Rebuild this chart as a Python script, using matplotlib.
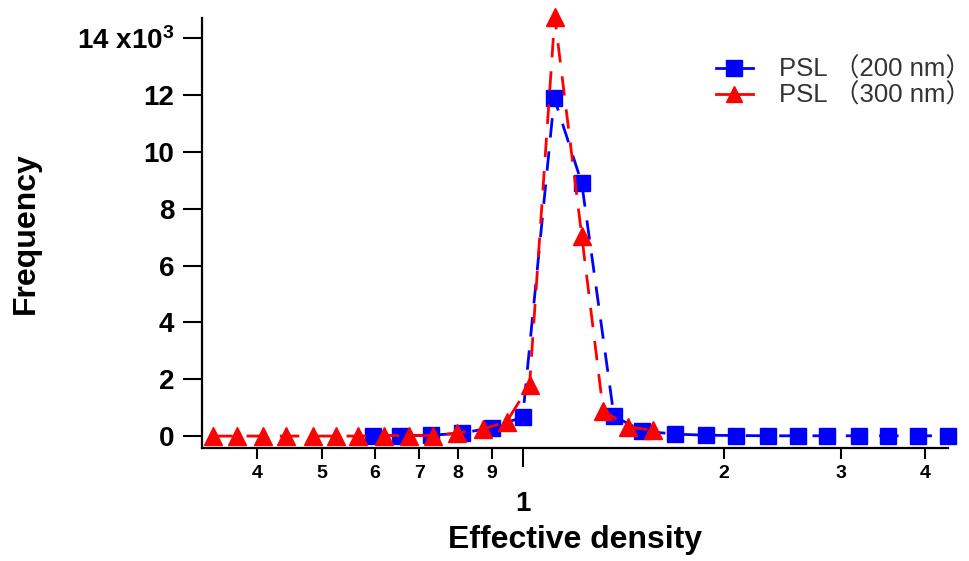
import matplotlib
import numpy as np

matplotlib.use("Agg")

import matplotlib.pyplot as plt
from matplotlib.legend_handler import HandlerLine2D

plt.rcParams["font.family"] = ["Liberation Sans", "DejaVu Sans"]
plt.rcParams["mathtext.default"] = "regular"

# effective density (log axis) and counts
x_200 = [0.596, 0.654, 0.728, 0.810, 0.900, 1.0, 1.115, 1.226, 1.37, 1.51,
         1.69, 1.88, 2.09, 2.33, 2.58, 2.86, 3.19, 3.53, 3.91, 4.33]
y_200 = [20, 20, 30, 100, 300, 670, 11900, 8900, 700, 180,
         70, 30, 20, 10, 10, 10, 10, 10, 10, 10]

x_300 = [0.344, 0.373, 0.409, 0.442, 0.486, 0.525, 0.566, 0.620, 0.675, 0.733,
         0.796, 0.871, 0.946, 1.024, 1.117, 1.226, 1.32, 1.44, 1.57]
y_300 = [0, 0, 0, 0, 0, 0, 0, 20, 20, 20,
         100, 250, 500, 1800, 14750, 7050, 900, 320, 200]

labels = ["PSL （200 nm）", "PSL （300 nm）"]

y_ticks = [0, 2000, 4000, 6000, 8000, 10000, 12000, 14000]
y_ticklabels = ["0", "2", "4", "6", "8", "10", "12", "14 x10$^3$"]
x_minor = [0.4, 0.5, 0.6, 0.7, 0.8, 0.9, 2, 3, 4]
x_minor_labels = ["4", "5", "6", "7", "8", "9", "2", "3", "4"]


class HandlerMarkerRight(HandlerLine2D):
    # put the marker at the right end of the legend line
    def get_xdata(self, legend, xdescent, ydescent, width, height, fontsize):
        xdata, _ = super().get_xdata(legend, xdescent, ydescent, width, height, fontsize)
        return xdata, np.array([xdata[-1] - 0.2 * width])


fig = plt.figure(figsize=(9.69, 5.61), dpi=100)
ax = fig.add_axes([0.2085, 0.2014, 0.7695, 0.7666])

l1, = ax.plot(x_200, y_200, color="#0000ff", lw=2, dashes=(7, 5),
              marker="s", ms=12, mec="#0000ff", clip_on=False, zorder=3)
l2, = ax.plot(x_300, y_300, color="#ff0000", lw=2, dashes=(7, 5),
              marker="^", ms=13, mec="#ff0000", clip_on=False, zorder=4)

ax.set_xscale("log")
ax.set_xlim(0.331, 4.33)
ax.set_ylim(-420, 14720)

for s in ["top", "right"]:
    ax.spines[s].set_visible(False)
for s in ["left", "bottom"]:
    ax.spines[s].set_linewidth(1.6)

ax.set_yticks(y_ticks)
ax.set_yticklabels(y_ticklabels, fontsize=20, fontweight="bold")
ax.tick_params(axis="y", length=14, width=1.5, pad=6)

ax.set_xticks([1])
ax.set_xticklabels(["1"], fontsize=20, fontweight="bold")
ax.set_xticks(x_minor, minor=True)
ax.set_xticklabels(x_minor_labels, minor=True, fontsize=14, fontweight="bold")
ax.tick_params(axis="x", which="major", length=14, width=1.5, pad=17)
ax.tick_params(axis="x", which="minor", length=8, width=1.5, pad=4)

ax.set_xlabel("Effective density", fontsize=23, fontweight="bold", labelpad=6)
ax.set_ylabel("Frequency", fontsize=23, fontweight="bold", labelpad=26)

leg = ax.legend([l1, l2], labels, loc="upper right", bbox_to_anchor=(1.062, 0.962),
                frameon=False, handlelength=1.45, handletextpad=1.0,
                labelspacing=0.05, numpoints=1,
                handler_map={l1: HandlerMarkerRight(), l2: HandlerMarkerRight()},
                prop={"family": ["Liberation Sans", "Noto Sans CJK SC"], "size": 18.5})
for t in leg.get_texts():
    t.set_color("#333333")
for h in leg.legend_handles:
    h.set_markersize(12)
    h.set_linestyle("-")

fig.savefig("out.png", dpi=100)
